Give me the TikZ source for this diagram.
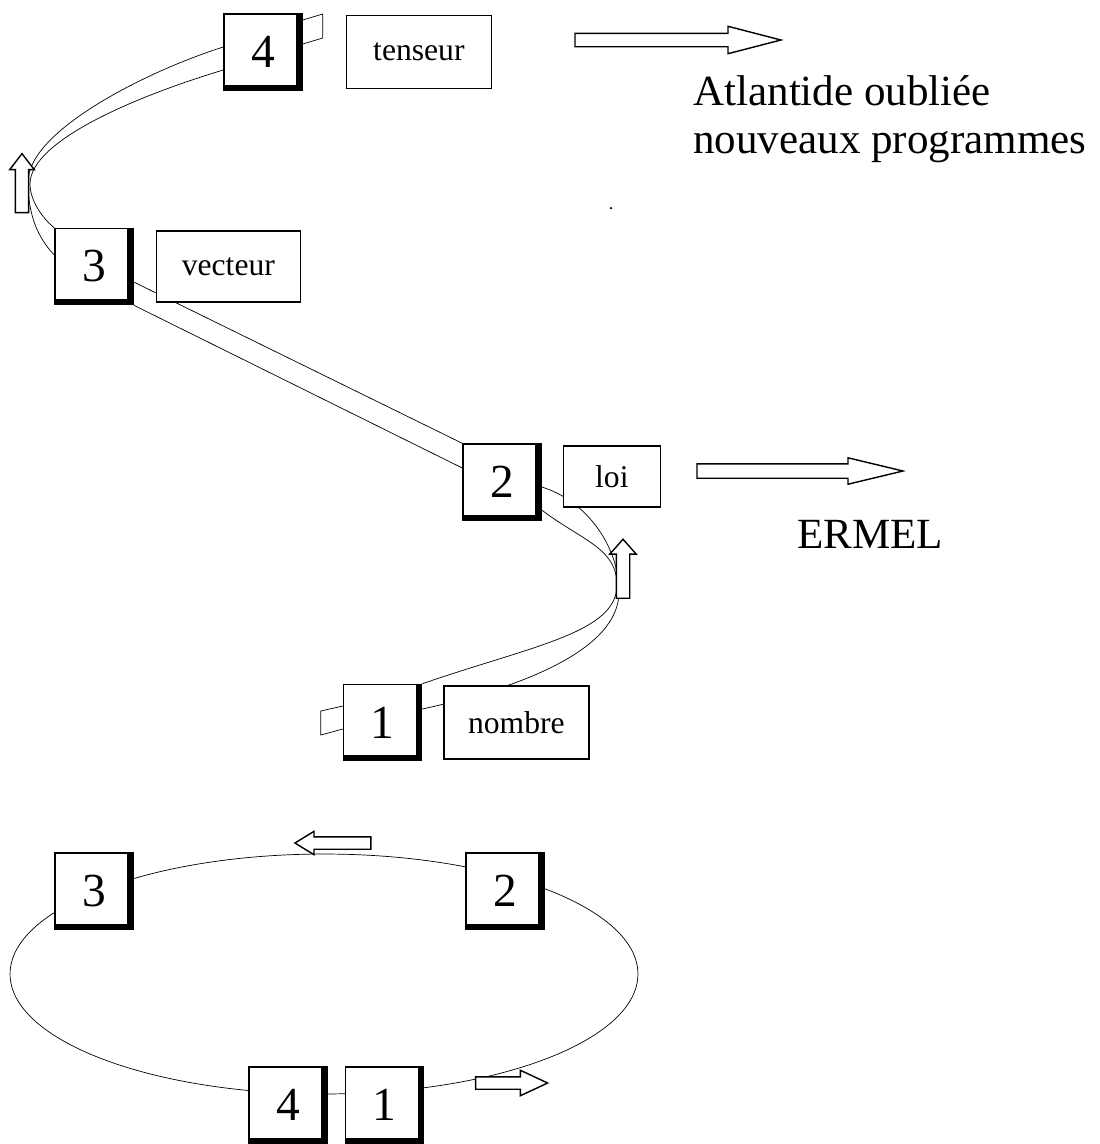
\documentclass[tikz,border=0pt]{standalone}
\usepackage{fontspec}
\setmainfont{Liberation Serif}
\usetikzlibrary{positioning}
\usetikzlibrary{shapes.arrows, backgrounds}
\tikzstyle{numbox} = [rectangle, minimum width=1.56cm, minimum height=1.52cm, inner sep=0pt, draw=black, line width=0.8pt, fill=white, font=\fontsize{27}{32}\selectfont, path picture={\fill[black] ([xshift=-0.11cm]path picture bounding box.north east) rectangle (path picture bounding box.south east); \fill[black] (path picture bounding box.south west) rectangle ([yshift=0.11cm]path picture bounding box.south east);}]
\tikzstyle{wordbox} = [rectangle, inner sep=0pt, draw=black, line width=0.8pt, fill=white, font=\fontsize{18}{22}\selectfont]
\tikzstyle{note} = [inner sep=0pt, font=\fontsize{24.5}{27.3}\selectfont, align=left]
\tikzstyle{fatarrow} = [single arrow, draw=black, line width=0.8pt, fill=white, inner xsep=0pt, inner ysep=0.12cm]
\tikzstyle{ribbon} = [line width=1pt]

\begin{document}
\begin{tikzpicture}[x=0.02cm, y=-0.02cm]
	\useasboundingbox (0,0) rectangle (1100,1144);
	% spiral
	\node (n4) [numbox] at (263,52) {4};
	\node (n3) [numbox] at (94,266.5) {3};
	\node (n2) [numbox] at (502,482) {2};
	\node (n1) [numbox] at (382.5,722.5) {1};
	\node (tens) [wordbox, minimum width=2.9cm, minimum height=1.46cm, right=0.86cm of n4] {tenseur};
	\node (vect) [wordbox, minimum width=2.88cm, minimum height=1.42cm, right=0.44cm of n3] {vecteur};
	\node (loi) [wordbox, minimum width=1.94cm, minimum height=1.22cm, right=0.42cm of n2, yshift=0.11cm] {loi};
	\node (nomb) [wordbox, minimum width=2.9cm, minimum height=1.46cm, right=0.42cm of n1] {nombre};
	\coordinate (foldl) at (28,182);
	\coordinate (foldl2) at (30,184);
	\coordinate (foldr) at (617,585);
	\coordinate (foldr2) at (619,592);
	\node (upl) [fatarrow, minimum height=1.18cm, single arrow head extend=0.11cm, single arrow tip angle=75, rotate=90] at (22,187.5) {};
	\node (upr) [fatarrow, minimum height=1.18cm, single arrow head extend=0.13cm, single arrow tip angle=83, rotate=90] at (623,572.5) {};
	\node (toatl) [fatarrow, minimum height=4.12cm, single arrow head extend=0.14cm, single arrow tip angle=29] at (665,40) {};
	\node (toerm) [fatarrow, inner ysep=0.13cm, minimum height=4.12cm, single arrow head extend=0.12cm, single arrow tip angle=27] at (785,471) {};
	\node (atl) [note, anchor=north west] at (693,75) {Atlantide oubliée\\nouveaux programmes};
	\node (ermel) [note, anchor=base west] at (797,548) {ERMEL};
	\fill (611,208) circle (0.025cm);
	% cycle
	\coordinate (oval) at (324,974);
	\node (m3) [numbox] at (94,891) {3};
	\node (m2) [numbox] at (505,891) {2};
	\node (m4) [numbox] at (288,1105) {4};
	\node (m1) [numbox] at (384.5,1105) {1};
	\node (back) [fatarrow, inner ysep=0.11cm, minimum height=1.52cm, single arrow head extend=0.11cm, single arrow tip angle=63, rotate=180] at (338,843) {};
	\node (fwd) [fatarrow, inner ysep=0.11cm, minimum height=1.44cm, single arrow head extend=0.13cm, single arrow tip angle=50] at (505,1083) {};
	\begin{scope}[on background layer, ribbon]
		\draw (oval) ellipse [x radius=6.28cm, y radius=2.4cm];
		\draw (n1.north east) .. controls (531,646) and (617,633) .. (foldr) .. controls (617,548) and (581,540) .. ([yshift=-0.56cm]n2.east);
		\draw ([yshift=0.27cm]n1.east) .. controls (520,688) and (619,650) .. (foldr2) .. controls (619,545) and (585,500) .. ([yshift=-0.1cm]n2.east);
		\draw ([yshift=-0.31cm]n3.east) -- (n2.north west);
		\draw (n3.south east) -- ([yshift=0.28cm]n2.west);
		\draw ([yshift=0.23cm]n3.west) .. controls (38,238) and (28,215) .. (foldl) .. controls (28,130) and (150,70) .. ([yshift=0.1cm]n4.west);
		\draw (n3.north west) .. controls (42,218) and (30,200) .. (foldl2) .. controls (30,140) and (140,95) .. ([yshift=-0.36cm]n4.west);
		\draw ([yshift=0.64cm]n4.east) -- ++(20,-6) -- ++(0,24) -- ([yshift=0.16cm]n4.east);
		\draw ([yshift=0.33cm]n1.west) -- ++(-22,5) -- ++(0,24) -- ([yshift=-0.13cm]n1.west);
	\end{scope}
\end{tikzpicture}
\end{document}
